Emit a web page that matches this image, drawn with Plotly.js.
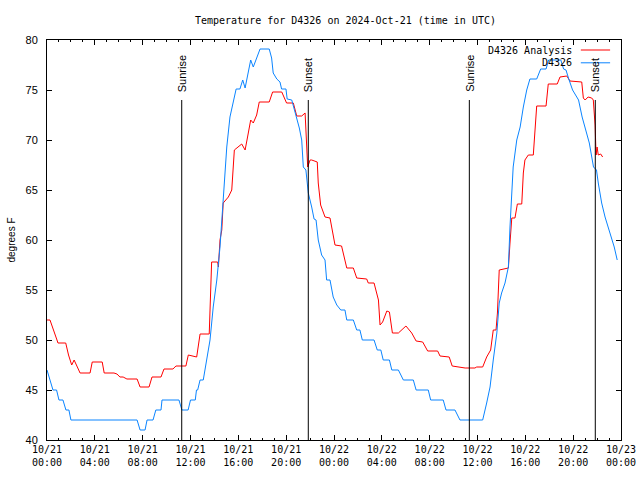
<!DOCTYPE html>
<html>
<head>
<meta charset="utf-8">
<script src="https://cdn.plot.ly/plotly-3.0.1.min.js"></script>
<style>html,body{margin:0;padding:0;background:#fff;}#chart{width:640px;height:480px;}</style>
</head>
<body>
<div id="chart"></div>
<script>
// Hours since 2024-10-21 00:00 UTC, and temperatures (degrees F)
var obsHours = [0.00,0.25,0.50,0.80,1.00,1.34,1.59,1.84,2.00,7.53,7.78,8.20,8.36,8.86,9.10,9.53,9.62,11.04,11.29,11.80,12.00,12.40,12.50,12.60,12.80,13.07,13.36,13.63,13.90,14.20,14.47,14.74,14.89,15.03,15.30,15.58,15.81,16.14,16.36,16.56,16.83,17.03,17.25,17.54,17.81,18.59,18.79,18.92,19.21,19.48,19.62,19.98,20.09,20.46,20.65,20.88,21.10,21.30,21.43,21.65,21.77,21.85,22.14,22.33,22.50,22.69,22.97,23.25,23.39,23.67,23.94,24.23,24.56,24.92,25.06,25.61,25.90,26.17,26.37,27.35,27.62,27.91,28.12,28.63,28.83,29.38,29.80,30.63,30.86,31.89,32.09,33.14,33.37,34.12,34.54,36.44,36.77,37.05,37.32,37.61,37.82,38.02,38.30,38.58,38.72,38.86,38.99,39.28,39.56,39.83,40.12,40.39,40.95,41.28,41.73,41.95,42.97,43.20,43.40,43.63,43.95,44.45,44.75,45.05,45.35,45.70,45.95,46.10,46.39,46.66,47.08,47.44,47.69];
var obsTemps = [47,46,45,45,44,44,43,43,42,42,41,41,42,42,43,43,44,44,43,43,44,44,45,45,46,46,48,50,53.3,56,59.3,63.7,66,69.3,72.3,73.8,75.1,75.1,76,75.2,76.8,78,77.3,78.2,79.1,79.1,78.2,76.7,76.1,75.8,75.1,75.1,74.1,74,73.2,72.2,71.2,70,67.3,67,65.7,64.7,63.3,62.1,62,60,58.5,58,56,56,54.3,53.5,53,53,52,52,51,51,50,50,49,49,48,48,47,47,46,46,45,45,44,44,43,43,42,42,43.7,45.3,48,50.7,53.7,54.7,55.7,57.3,61.3,65,67.3,70,71.3,73.3,75,76.1,76.1,77.1,77.1,78,78,77.1,77,76.1,75,74,72.3,71,69.7,67.3,67,65.7,63.7,62.3,60.7,59.3,58];

var anaHours = [0.00,0.25,0.84,0.92,1.56,1.80,2.07,2.26,2.76,3.60,3.79,4.62,4.79,5.60,5.85,6.10,6.36,6.69,7.53,7.78,8.53,8.78,9.53,9.78,10.54,10.79,11.62,11.82,12.52,12.80,13.57,13.77,14.27,14.33,14.47,14.61,14.74,15.16,15.45,15.66,16.28,16.56,16.83,17.03,17.25,17.54,17.75,18.59,18.87,19.63,20.04,20.60,20.88,21.30,21.58,21.70,21.80,22.00,22.14,22.60,22.69,22.89,23.25,23.67,23.89,24.08,24.64,25.06,25.61,25.90,26.74,26.87,27.35,27.71,27.85,28.07,28.41,28.63,28.88,29.38,30.02,30.50,30.86,31.42,31.84,32.67,32.86,33.64,33.89,34.68,34.96,35.79,35.93,36.44,36.77,37.10,37.32,37.55,37.66,37.82,38.58,38.72,38.86,39.14,39.33,39.70,39.83,39.97,40.25,40.67,40.81,40.95,41.73,41.92,42.67,42.90,43.46,43.74,44.71,44.85,45.00,45.25,45.55,45.68,45.83,45.91,46.00,46.10,46.30,46.47];
var anaTemps = [52,52,50,49.7,49.7,48.5,47.5,48,46.7,46.7,47.8,47.8,46.7,46.7,46.6,46.3,46.3,46.1,46.1,45.3,45.3,46.3,46.3,47.1,47.1,47.4,47.4,48.5,48.3,50.6,50.6,57.8,57.8,57.3,60,61,63.7,64.3,65,69,69.6,69,70.7,72,71.7,72.5,73.8,73.8,74.8,74.8,73.7,73.7,72.4,72.4,72.7,70,67.3,68,68,67.8,65.7,63.5,62.3,62.2,60.7,59.5,59.4,57.2,57.2,56.2,56.1,55.7,55.7,54,51.5,51.8,52.9,52.8,50.7,50.7,51.4,50.7,49.9,49.8,48.9,48.9,48.4,48.3,47.4,47.3,47.2,47.2,47.3,47.3,48.3,49,51,51,52.7,57,57.2,59.7,62.2,62.2,63.6,63.6,66.7,68,68.5,68.5,71.2,73.4,73.4,75.6,75.6,76.3,76.4,75.9,75.8,74.2,74,74.3,74.2,74,71.5,68.5,69.3,68.5,68.6,68.3];

var sunHours = [11.27, 21.85, 35.32, 45.85];
var sunLabels = ["Sunrise", "Sunset", "Sunrise", "Sunset"];

var tickHours = [0,4,8,12,16,20,24,28,32,36,40,44,48];
var tickLabels = ["10/21<br>00:00","10/21<br>04:00","10/21<br>08:00","10/21<br>12:00","10/21<br>16:00","10/21<br>20:00","10/22<br>00:00","10/22<br>04:00","10/22<br>08:00","10/22<br>12:00","10/22<br>16:00","10/22<br>20:00","10/23<br>00:00"];

var seriesNames = ["D4326 Analysis", "D4326"];

var START = Date.UTC(2024, 9, 21);
function toDate(h) {
  var d = new Date(START + Math.round(h * 60) * 60000);
  return d.toISOString().slice(0, 16).replace('T', ' ');
}

var mono = "DejaVu Sans Mono, monospace";
var sans = "Liberation Sans, Arial, sans-serif";
var RED = "#ff0000", BLUE = "#0a84ff";

var traces = [
  {x: anaHours.map(toDate), y: anaTemps, mode: "lines", name: seriesNames[0],
   line: {color: RED, width: 1}, showlegend: false, hoverinfo: "skip"},
  {x: obsHours.map(toDate), y: obsTemps, mode: "lines", name: seriesNames[1],
   line: {color: BLUE, width: 1}, showlegend: false, hoverinfo: "skip"}
];

var shapes = sunHours.map(function (h) {
  return {type: "line", xref: "x", yref: "y", x0: toDate(h), x1: toDate(h), y0: 40, y1: 74,
          line: {color: "#000", width: 1}};
});
var annotations = sunHours.map(function (h, i) {
  return {x: toDate(h), y: 74, xref: "x", yref: "y", text: sunLabels[i], textangle: -90,
          showarrow: false, xanchor: "center", yanchor: "bottom", yshift: 6,
          font: {family: sans, size: 11, color: "#000"}};
});

// legend (gnuplot style: text then line sample)
var legColors = [RED, BLUE];
var legY = [0.975, 0.943];
seriesNames.forEach(function (n, i) {
  annotations.push({x: 0.918, y: legY[i], xref: "paper", yref: "paper", text: n,
    showarrow: false, xanchor: "right", yanchor: "middle",
    font: {family: mono, size: 10, color: "#000"}});
  shapes.push({type: "line", xref: "paper", yref: "paper", x0: 0.930, x1: 0.981,
    y0: legY[i], y1: legY[i], line: {color: legColors[i], width: 1}});
});

var layout = {
  width: 640, height: 480,
  margin: {l: 47, r: 19, t: 40, b: 40, pad: 0},
  paper_bgcolor: "#fff", plot_bgcolor: "#fff",
  title: {text: "Temperature for D4326 on 2024-Oct-21 (time in UTC)",
          font: {family: mono, size: 10, color: "#000"},
          x: 0.52, xref: "paper", y: 0.958, yanchor: "middle"},
  xaxis: {type: "date", range: [toDate(0), toDate(48)],
          tickvals: tickHours.map(toDate), ticktext: tickLabels,
          ticks: "inside", ticklen: 5, tickcolor: "#000", tickwidth: 1,
          minor: {dtick: 3600000, ticks: "inside", ticklen: 2, tickcolor: "#000", showgrid: false},
          showline: true, linecolor: "#000", linewidth: 1, mirror: "ticks",
          showgrid: false, zeroline: false,
          tickfont: {family: mono, size: 10, color: "#000"}},
  yaxis: {range: [40, 80], dtick: 5, tick0: 40,
          ticks: "inside", ticklen: 5, tickcolor: "#000", tickwidth: 1,
          showline: true, linecolor: "#000", linewidth: 1, mirror: "ticks",
          showgrid: false, zeroline: false, ticklabelstandoff: 6,
          tickfont: {family: sans, size: 11, color: "#000"},
          title: {text: "degrees F", font: {family: sans, size: 10, color: "#000"}, standoff: 8}},
  shapes: shapes,
  annotations: annotations
};

Plotly.newPlot("chart", traces, layout, {staticPlot: true, displayModeBar: false});
</script>
</body>
</html>
